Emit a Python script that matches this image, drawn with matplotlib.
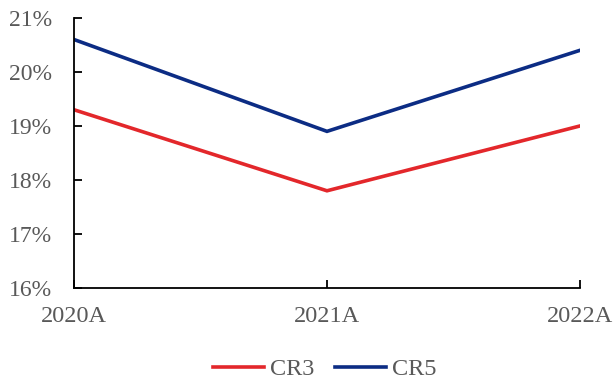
import matplotlib.pyplot as plt
from matplotlib.ticker import FuncFormatter

plt.rcParams['font.family'] = ['Liberation Serif', 'DejaVu Serif']

# Market concentration ratios, in percent
years = ['2020A', '2021A', '2022A']
cr3 = [19.3, 17.8, 19.0]
cr5 = [20.6, 18.9, 20.4]

text_color = '#595959'

fig = plt.figure(figsize=(6.13, 3.81), dpi=100)
ax = fig.add_axes([0.1207, 0.244, 0.8254, 0.709])

x = range(len(years))
ax.plot(x, cr3, color='#E3272B', linewidth=2.6, label='CR3', solid_joinstyle='miter')
ax.plot(x, cr5, color='#0C2C84', linewidth=2.6, label='CR5', solid_joinstyle='miter')

ax.set_xlim(0, len(years) - 1)
ax.set_ylim(16, 21)
ax.set_xticks(list(x))
ax.set_xticklabels(years)
ax.set_yticks(range(16, 22))
ax.yaxis.set_major_formatter(FuncFormatter(lambda v, _: f'{v:.0f}%'))

for side in ('top', 'right'):
    ax.spines[side].set_visible(False)
for side in ('left', 'bottom'):
    ax.spines[side].set_linewidth(1.3)
    ax.spines[side].set_color('black')

ax.tick_params(axis='y', direction='in', length=5.5, width=1.3, pad=16,
               labelsize=17, labelcolor=text_color)
ax.tick_params(axis='x', direction='in', length=5.5, width=1.3, pad=13,
               labelsize=17.5, labelcolor=text_color)

ax.legend(loc='center', bbox_to_anchor=(0.5 - 0.004, -0.3), ncol=2, frameon=False,
          fontsize=17.5, labelcolor=text_color, handlelength=2.1,
          handletextpad=0.25, columnspacing=0.86)

fig.savefig('out.png', dpi=100)
